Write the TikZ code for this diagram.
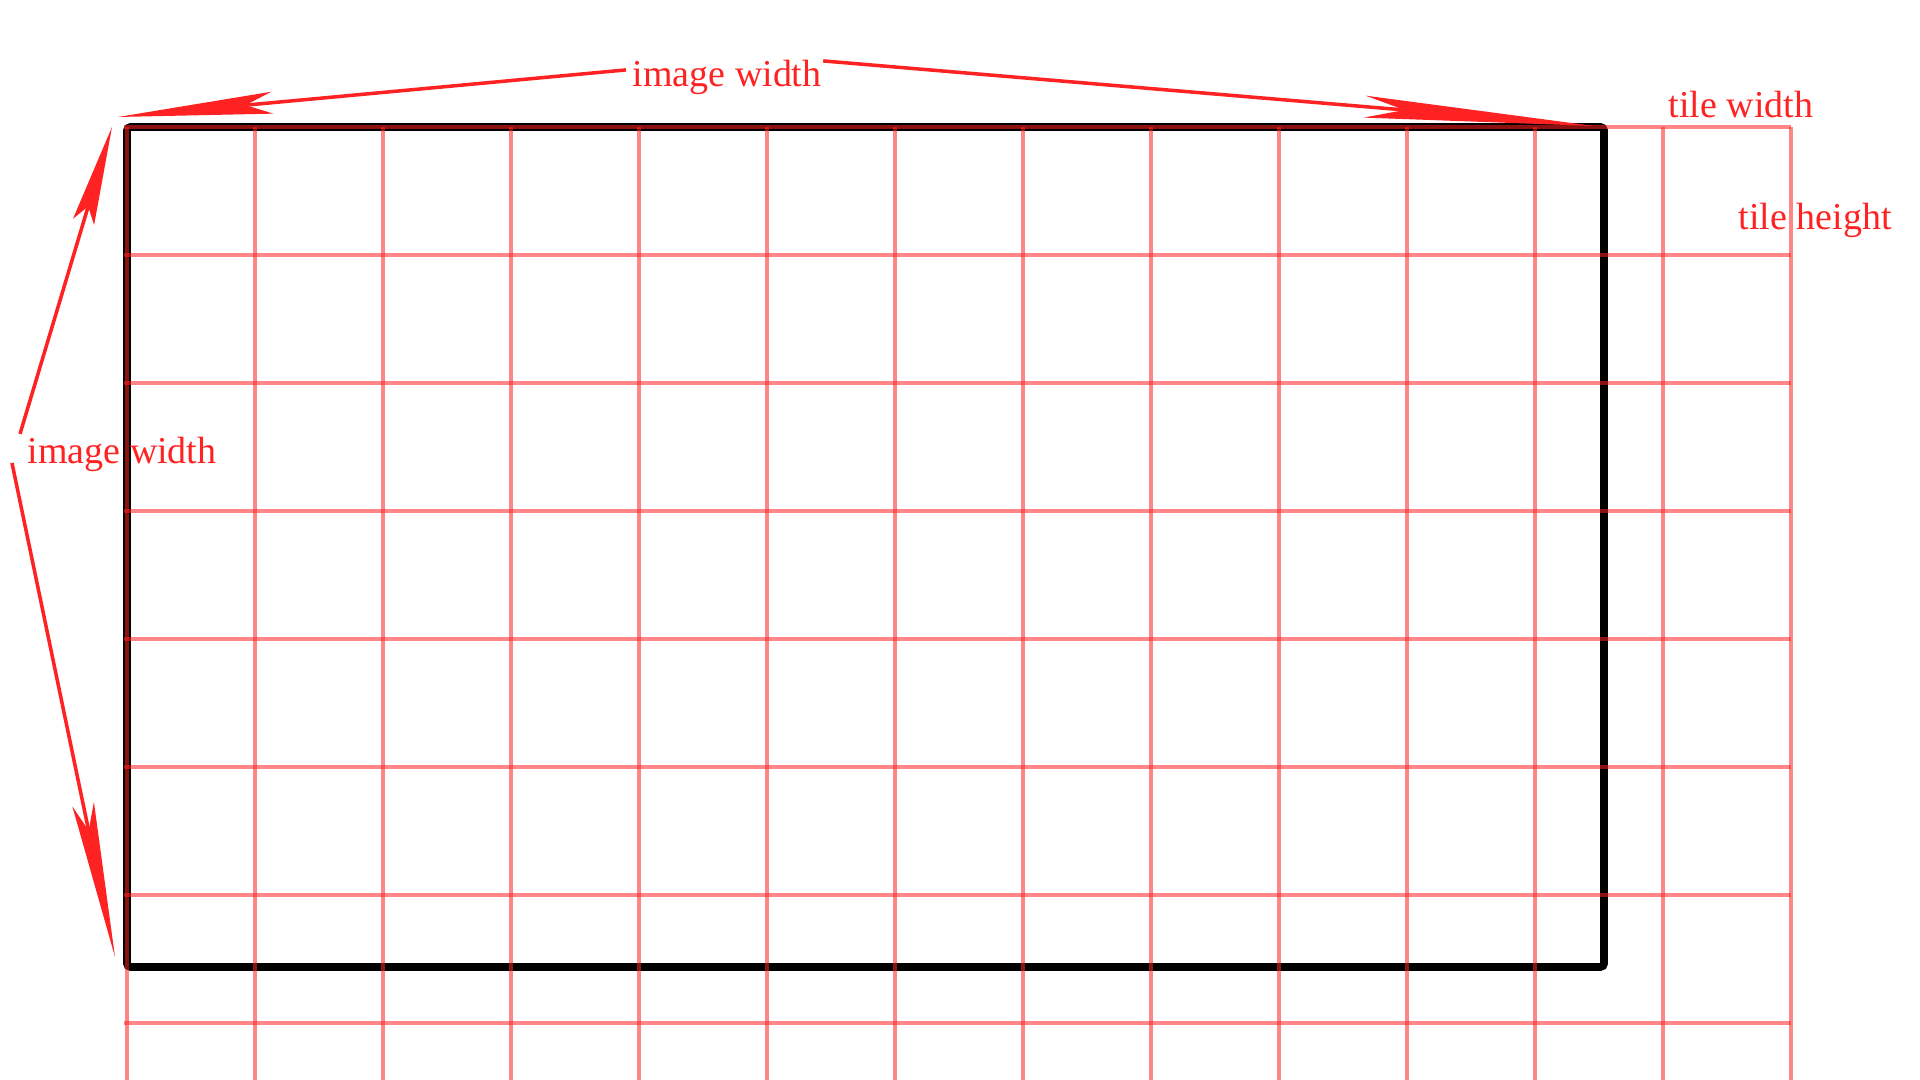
\documentclass[tikz,border=0pt]{standalone}
\usepackage{fontspec}
\setmainfont{Liberation Serif}
\usetikzlibrary{arrows.meta,calc}
\definecolor{tlred}{RGB}{255,34,34}
\definecolor{tlframe}{RGB}{0,0,0}
\tikzset{
  gridln/.style={draw=tlred, draw opacity=0.55, line width=0.9pt},
  frame/.style={draw=tlframe, line width=2.2pt, rounded corners=1pt},
  dimarr/.style={draw=tlred, line width=1pt},
  lbl/.style={text=tlred, font=\fontsize{10.8}{13}\selectfont, inner sep=0pt, anchor=base west}
}
\begin{document}
\begin{tikzpicture}[x=0.01cm, y=-0.01cm]
  \useasboundingbox (0,0) rectangle (1920,1080);
  \draw[frame] (127,127) rectangle (1604,967);
  \foreach \i in {0,...,13} \draw[gridln] (127+128*\i,127) -- (127+128*\i,1080);
  \foreach \j in {0,...,7} \draw[gridln] (124,127+128*\j) -- (1791,127+128*\j);
  \node[lbl] (imgw) at (632,87) {image width};
  \node[lbl] (imgh) at (27,464) {image width};
  \node[lbl] (tilew) at (1668,118) {tile width};
  \node[lbl] (tileh) at (1738,230) {tile height};
  \coordinate (tl) at (118,117);
  \coordinate (tr) at (1594,126);
  \coordinate (lt) at (112,127);
  \coordinate (lb) at (115,957);
  \draw[dimarr, -{Stealth[length=1.55cm,width=0.22cm,inset=0.27cm,line width=0pt]}] ($(imgw.west)+(-6,-8)$) -- (tl);
  \draw[dimarr, -{Stealth[length=2.3cm,width=0.22cm,inset=0.4cm,line width=0pt]}] ($(imgw.north east)+(1,1)$) -- (tr);
  \draw[dimarr, -{Stealth[length=0.99cm,width=0.22cm,inset=0.16cm,line width=0pt]}] ($(imgh.north west)+(-7,-3)$) -- (lt);
  \draw[dimarr, -{Stealth[length=1.56cm,width=0.22cm,inset=0.27cm,line width=0pt]}] ($(imgh.base west)+(-15,-1)$) -- (lb);
\end{tikzpicture}
\end{document}
